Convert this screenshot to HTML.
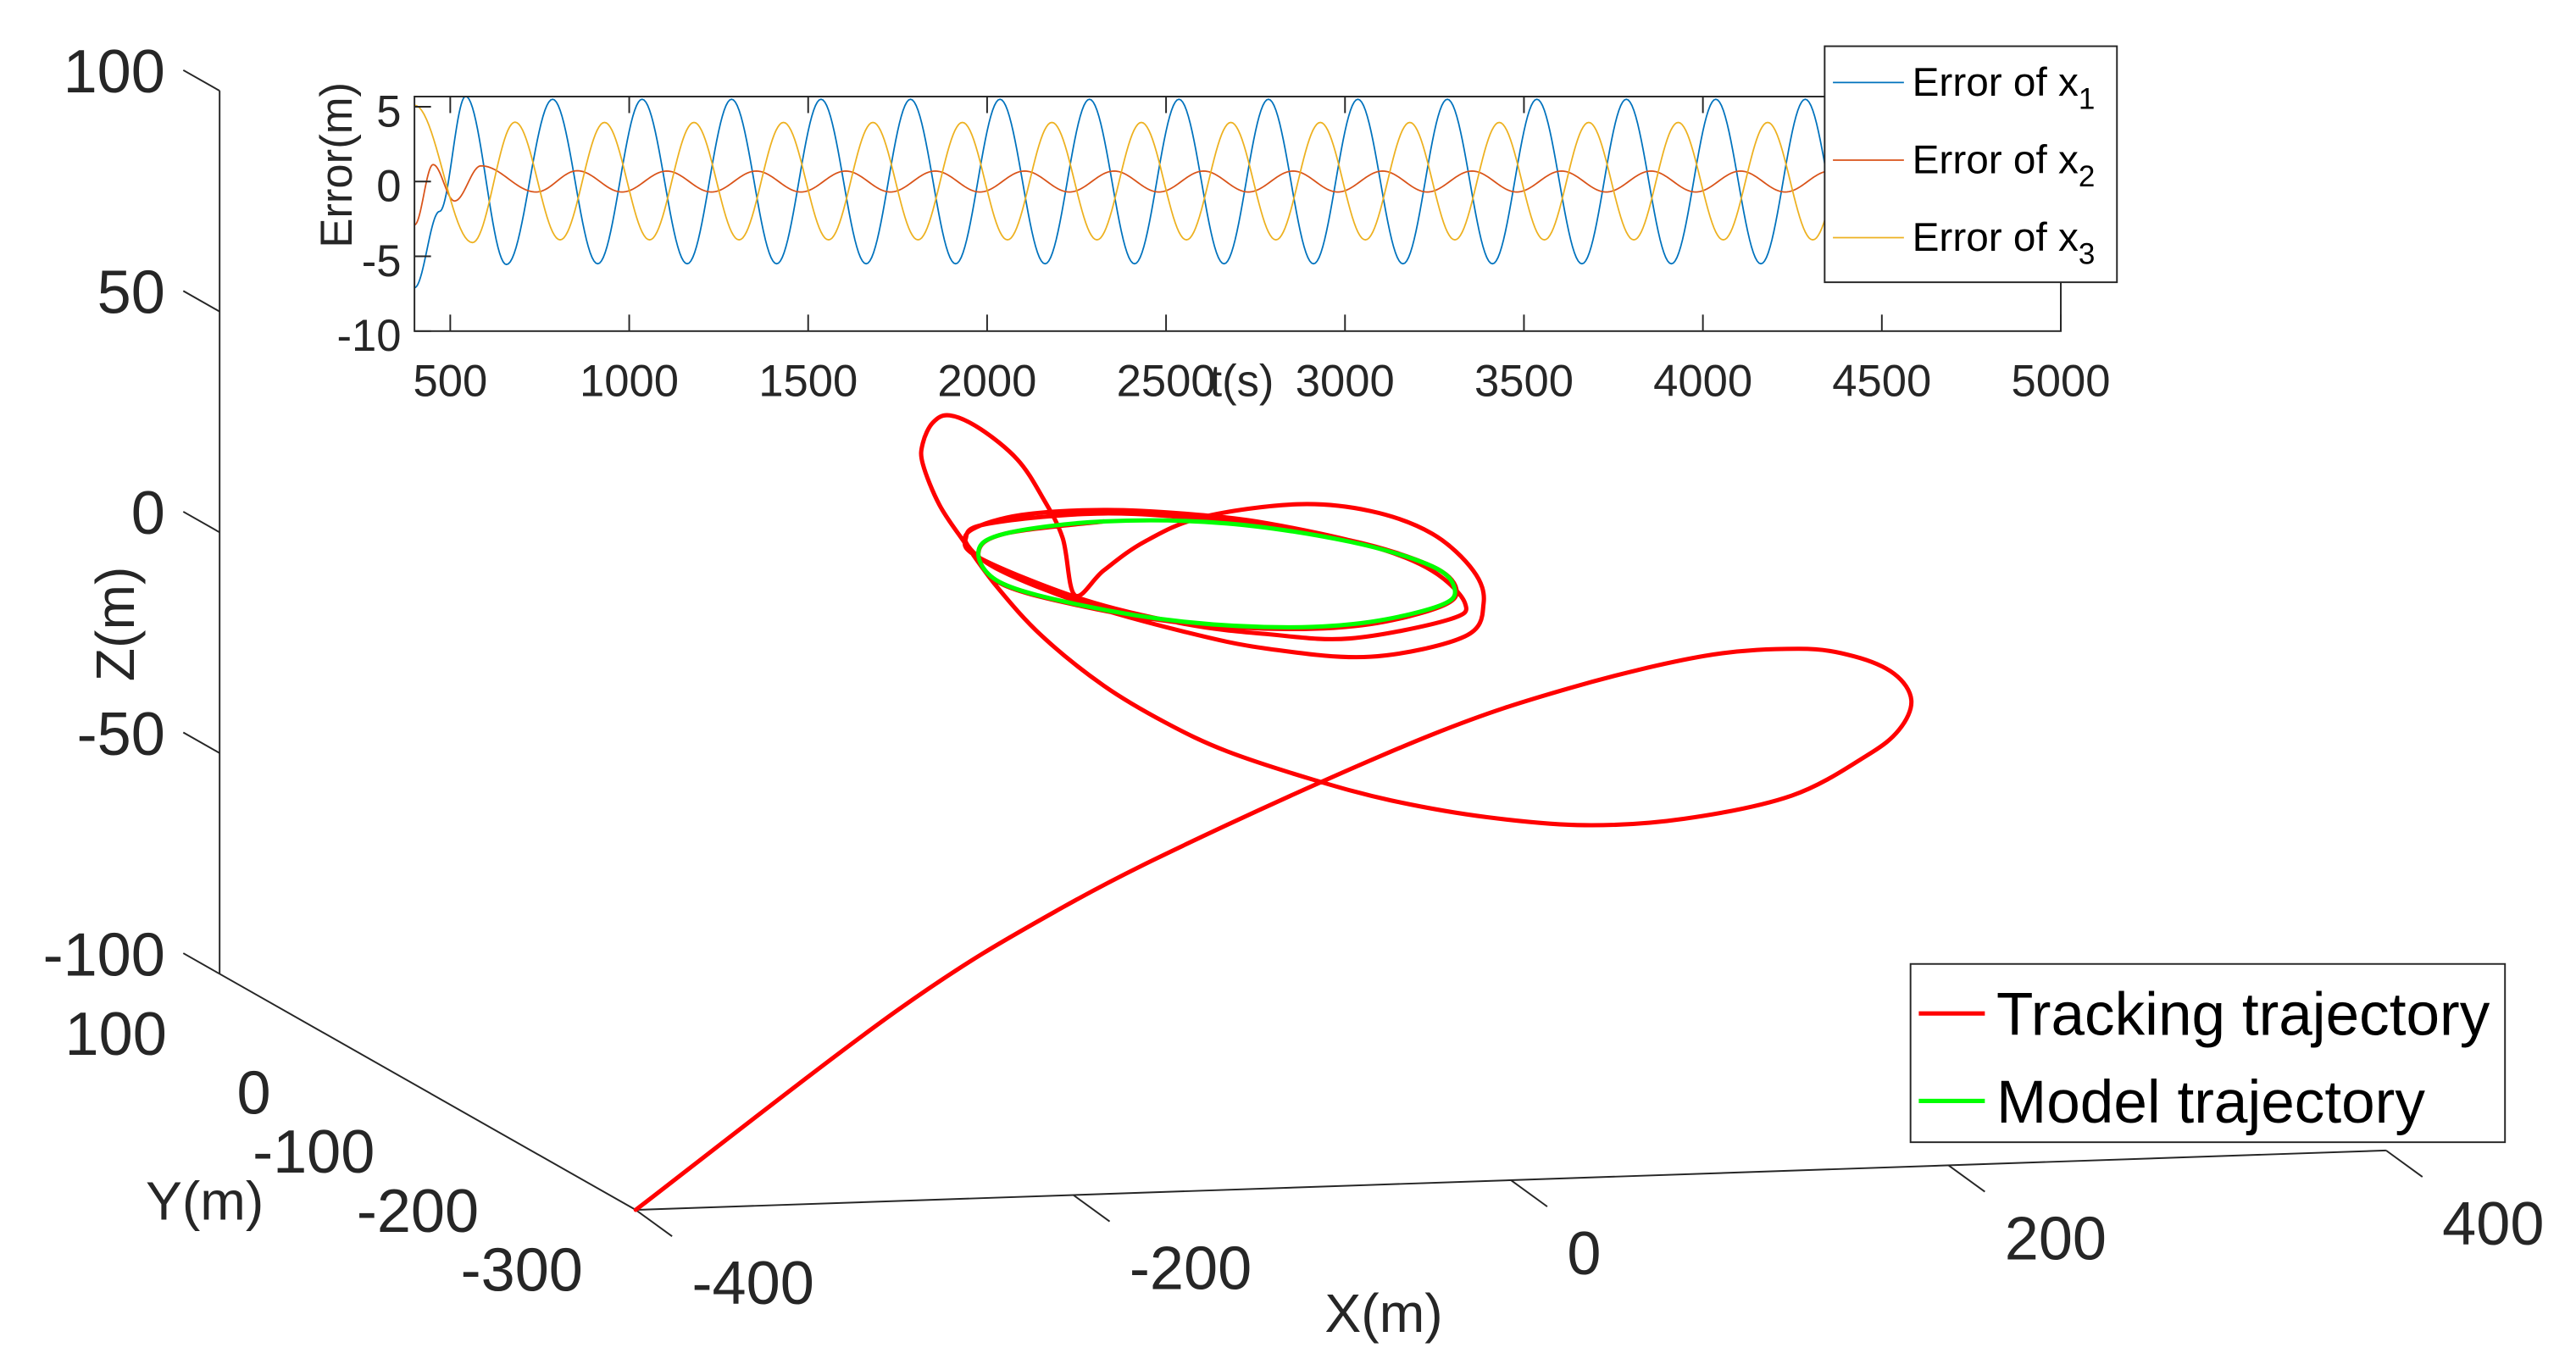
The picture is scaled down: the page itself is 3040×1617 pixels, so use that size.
<!DOCTYPE html>
<html><head><meta charset="utf-8"><style>
html,body{margin:0;padding:0;background:#fff;}
svg{display:block;font-family:"Liberation Sans",Arial,sans-serif;}
</style></head><body>
<svg id="chart" width="3040" height="1617" viewBox="0 0 1560 830" preserveAspectRatio="none" xmlns="http://www.w3.org/2000/svg">
<rect x="0" y="0" width="1560" height="830" fill="#fff"/>
<g id="main3d"></g>
<g id="inset"></g>
</svg>
<script>
// ---- 3D trajectory data ----
const zTicks = [100, 50, 0, -50, -100];
const yTicks = [100, 0, -100, -200, -300];
const xTicks = [-400, -200, 0, 200, 400];
const trackX = [-400,-184.9,-109.8,-34.7,59.1,121.4,183.4,226.9,251.8,270.3,278.1,272.5,257.4,223.4,174.3,129.1,83.8,40.3,4.7,-34.7,-62.9,-91.0,-119.2,-139.8,-154.9,-166.1,-173.7,-173.7,-169.1,-161.4,-147.4,-130.5,-119.2,-109.8,-104.2,-91.0,-72.3,-46.0,-2.9,30.9,59.1,77.9,82.6,74.1,30.9,-16.0,-53.5,-100.5,-138.0,-153.0,-151.1,-128.6,-91.0,-53.5,-16.0,30.9,59.1,74.1,66.6,21.6,-16.0,-53.5,-100.5,-147.4,-154.0,-143.6,-91.0,-34.7,21.6,59.1,70.2,62.9,30.9,-6.6,-53.5,-100.5,-138.0,-148.3,-136.1,-91.0];
const trackZ = [-100,-85.0,-63.1,-45.7,-26.8,-17.4,-11.1,-10.2,-12.3,-16.6,-22.7,-29.3,-35.0,-43.4,-47.8,-48.5,-45.9,-41.4,-36.1,-29.0,-22.0,-13.2,-1.5,10.0,20.5,29.0,38.4,43.1,47.7,49.2,45.9,38.7,30.1,20.6,7.5,12.9,19.1,24.2,26.4,24.3,18.7,10.0,2.5,-4.8,-8.7,-6.1,-1.7,5.6,13.6,19.5,23.2,26.1,26.6,25.1,22.3,16.4,10.3,2.7,-0.9,-4.4,-2.8,0.1,6.5,16.6,21.3,24.4,25.8,23.0,17.8,11.3,5.9,2.1,-1.3,-1.8,0.3,4.9,10.7,17.8,22.0,24.0];
const trackY = [-300,-100,-100,-100,-100,-100,-100,-100,-100,-100,-100,-100,-100,-100,-100,-100,-100,-100,-100,-100,-100,-100,-100,-100,-100,-100,-100,-100,-100,-100,-100,-100,-100,-100,-100,-100,-100,-100,-100,-100,-100,-100,-100,-100,-100,-100,-100,-100,-100,-100,-100,-100,-100,-100,-100,-100,-100,-100,-100,-100,-100,-100,-100,-100,-100,-100,-100,-100,-100,-100,-100,-100,-100,-100,-100,-100,-100,-100,-100,-100];
const modelX = [-148.3,-136.1,-91.0,-34.7,21.6,59.1,69.4,62.9,30.9,-6.6,-53.5,-100.5,-138.0];
const modelZ = [18.0,22.0,24.0,22.6,17.5,11.3,6.0,2.4,-0.8,-1.4,0.6,5.1,10.9];
const modelY = [-100,-100,-100,-100,-100,-100,-100,-100,-100,-100,-100,-100,-100];

// ---- inset error data (extrema knots) ----
const errTicksX = [500,1000,1500,2000,2500,3000,3500,4000,4500,5000];
const errTicksY = [5,0,-5,-10];
const e1T = [400,470,543,657,786,912,1036,1162,1286,1412,1536,1662,1786,1912,2036,2162,2286,2412,2536,2662,2786,2912,3036,3162,3286,3412,3536,3662,3786,3912,4036,4162,4286,4412,4536,4662,4786,4912,5000];
const e1V = [-7.1,-2.0,5.7,-5.55,5.5,-5.5,5.5,-5.5,5.5,-5.5,5.5,-5.5,5.5,-5.5,5.5,-5.5,5.5,-5.5,5.5,-5.5,5.5,-5.5,5.5,-5.5,5.5,-5.5,5.5,-5.5,5.5,-5.5,5.5,-5.5,5.5,-5.5,5.5,-5.5,5.5,-5.5,5.3];
const e2T = [400,452,512,586,740,855,980,1105,1230,1355,1480,1605,1730,1855,1980,2105,2230,2355,2480,2605,2730,2855,2980,3105,3230,3355,3480,3605,3730,3855,3980,4105,4230,4355,4480,4605,4730,4855,4980];
const e2V = [-2.9,1.13,-1.3,1.05,-0.7,0.72,-0.7,0.7,-0.7,0.7,-0.7,0.7,-0.7,0.7,-0.7,0.7,-0.7,0.7,-0.7,0.7,-0.7,0.7,-0.7,0.7,-0.7,0.7,-0.7,0.7,-0.7,0.7,-0.7,0.7,-0.7,0.7,-0.7,0.7,-0.7,0.7,-0.7];
const e3T = [400,562,681,807,931,1057,1181,1307,1431,1557,1681,1807,1931,2057,2181,2307,2431,2557,2681,2807,2931,3057,3181,3307,3431,3557,3681,3807,3931,4057,4181,4307,4431,4557,4681,4807,4931,5000];
const e3V = [5.1,-4.08,3.97,-3.9,3.95,-3.9,3.95,-3.9,3.95,-3.9,3.95,-3.9,3.95,-3.9,3.95,-3.9,3.95,-3.9,3.95,-3.9,3.95,-3.9,3.95,-3.9,3.95,-3.9,3.95,-3.9,3.95,-3.9,3.95,-3.9,3.95,-3.9,3.95,-3.9,3.95,-1.0];

const NS = "http://www.w3.org/2000/svg";
function mk(parent, tag, attrs, text) {
  const el = document.createElementNS(NS, tag);
  for (const k in attrs) el.setAttribute(k, attrs[k]);
  if (text !== undefined) el.textContent = text;
  parent.appendChild(el);
  return el;
}
const AX = "#262626";

function proj(X, Y, Z) {
  return [385 + (X + 400) * 1.325 + (Y + 300) * (-0.63),
          733 + (X + 400) * (-0.045) + (Y + 300) * (-0.3575) + (Z + 100) * (-2.675)];
}
function smoothPath(pts, closed) {
  const n = pts.length;
  const get = i => closed ? pts[(i + n) % n] : pts[Math.max(0, Math.min(n - 1, i))];
  let d = "M" + pts[0][0].toFixed(2) + "," + pts[0][1].toFixed(2);
  const segs = closed ? n : n - 1;
  for (let i = 0; i < segs; i++) {
    const p0 = get(i - 1), p1 = get(i), p2 = get(i + 1), p3 = get(i + 2);
    const c1 = [p1[0] + (p2[0] - p0[0]) / 6, p1[1] + (p2[1] - p0[1]) / 6];
    const c2 = [p2[0] - (p3[0] - p1[0]) / 6, p2[1] - (p3[1] - p1[1]) / 6];
    d += "C" + c1.map(v => v.toFixed(2)).join(",") + " " + c2.map(v => v.toFixed(2)).join(",") + " " + p2.map(v => v.toFixed(2)).join(",");
  }
  if (closed) d += "Z";
  return d;
}

const g3 = document.getElementById("main3d");
const zA = proj(-400, 100, -100), zB = proj(-400, 100, 100);
const axZ = mk(g3, "line", {x1: zA[0], y1: zA[1], x2: zB[0], y2: zB[1], stroke: AX, "stroke-width": 1});


const yA = proj(-400, -300, -100);
const axY = mk(g3, "line", {x1: zA[0], y1: zA[1], x2: yA[0], y2: yA[1], stroke: AX, "stroke-width": 1});


const xB = proj(400, -300, -100);
const axX = mk(g3, "line", {x1: yA[0], y1: yA[1], x2: xB[0], y2: xB[1], stroke: AX, "stroke-width": 1});



zTicks.forEach(v => {
  const p = proj(-400, 100, v);
  const t = mk(g3, "line", {x1: p[0], y1: p[1], x2: p[0] - 22, y2: p[1] - 12.5, stroke: AX, "stroke-width": 1});
  
  
  const l = mk(g3, "text", {x: 100, y: p[1] + 1, "font-size": 37, fill: AX, "text-anchor": "end"}, String(v));
  
  
});
yTicks.forEach(v => {
  const p = proj(-400, v, -100);
  const l = mk(g3, "text", {x: p[0] - 32, y: p[1] + 49, "font-size": 37, fill: AX, "text-anchor": "end"}, String(v));
  
  
});
xTicks.forEach(v => {
  const p = proj(v, -300, -100);
  const t = mk(g3, "line", {x1: p[0], y1: p[1], x2: p[0] + 22, y2: p[1] + 16, stroke: AX, "stroke-width": 1});
  
  
  const l = mk(g3, "text", {x: p[0] + 34, y: p[1] + 57, "font-size": 37, fill: AX, "text-anchor": "start"}, String(v));
  
  
});
const zt = mk(g3, "text", {x: 0, y: 0, "font-size": 33, fill: AX, "text-anchor": "middle", transform: "translate(81,378) rotate(-90)"}, "Z(m)");


const yt = mk(g3, "text", {x: 124, y: 739, "font-size": 33, fill: AX, "text-anchor": "middle"}, "Y(m)");


const xt = mk(g3, "text", {x: 838, y: 807, "font-size": 33, fill: AX, "text-anchor": "middle"}, "X(m)");



const trackPts = trackX.map((x, i) => proj(x, trackY[i], trackZ[i]));
const tr = mk(g3, "path", {d: smoothPath(trackPts, false), fill: "none", stroke: "#ff0000", "stroke-width": 2.6, "stroke-linejoin": "round", "stroke-linecap": "round"});


const modelPts = modelX.map((x, i) => proj(x, modelY[i], modelZ[i]));
const md = mk(g3, "path", {d: smoothPath(modelPts, true), fill: "none", stroke: "#00ff00", "stroke-width": 2.6});



const lg = mk(g3, "g", {});


mk(lg, "rect", {x: 1157, y: 584, width: 360, height: 108, fill: "#fff", stroke: AX, "stroke-width": 1});
const l1 = mk(lg, "line", {x1: 1162, y1: 614, x2: 1202, y2: 614, stroke: "#ff0000", "stroke-width": 2.6});


const t1 = mk(lg, "text", {x: 1209, y: 627, "font-size": 36.5, fill: "#000"}, "Tracking trajectory");


const l2 = mk(lg, "line", {x1: 1162, y1: 667, x2: 1202, y2: 667, stroke: "#00ff00", "stroke-width": 2.6});


const t2 = mk(lg, "text", {x: 1209, y: 680, "font-size": 36.5, fill: "#000"}, "Model trajectory");



// ---- inset ----
const gi = document.getElementById("inset");
const IL = 251, IR = 1248, IT = 58.5, IB = 200.6;
const tMin = 400, tMax = 5000, vMin = -10, vMax = 5.68;
const sx = t => IL + (t - tMin) / (tMax - tMin) * (IR - IL);
const sy = v => IB - (v - vMin) / (vMax - vMin) * (IB - IT);
mk(gi, "rect", {x: IL, y: IT, width: IR - IL, height: IB - IT, fill: "#fff"});
const clip = mk(gi, "clipPath", {id: "insetClip"});
mk(clip, "rect", {x: IL, y: IT, width: IR - IL, height: IB - IT});

function series(T, V, color, name) {
  let d = "";
  for (let i = 0; i < T.length - 1; i++) {
    const n = 24;
    for (let k = 0; k <= n; k++) {
      if (i > 0 && k === 0) continue;
      const f = k / n;
      const w = (1 - Math.cos(Math.PI * f)) / 2;
      const t = T[i] + (T[i + 1] - T[i]) * f;
      const v = V[i] + (V[i + 1] - V[i]) * w;
      d += (d ? "L" : "M") + sx(t).toFixed(2) + "," + sy(v).toFixed(2);
    }
  }
  const p = mk(gi, "path", {d: d, fill: "none", stroke: color, "stroke-width": 0.9, "clip-path": "url(#insetClip)"});
  
  
}
series(e1T, e1V, "#0072BD", "error-x1-line");
series(e2T, e2V, "#D95319", "error-x2-line");
series(e3T, e3V, "#EDB120", "error-x3-line");

const box = mk(gi, "rect", {x: IL, y: IT, width: IR - IL, height: IB - IT, fill: "none", stroke: AX, "stroke-width": 1});


errTicksX.forEach(v => {
  const x = sx(v);
  mk(gi, "line", {x1: x, y1: IB, x2: x, y2: IB - 10, stroke: AX, "stroke-width": 1});
  mk(gi, "line", {x1: x, y1: IT, x2: x, y2: IT + 10, stroke: AX, "stroke-width": 1});
  const l = mk(gi, "text", {x: x, y: 240, "font-size": 27, fill: AX, "text-anchor": "middle"}, String(v));
  
  
});
errTicksY.forEach(v => {
  const y = sy(v);
  mk(gi, "line", {x1: IL, y1: y, x2: IL + 10, y2: y, stroke: AX, "stroke-width": 1});
  const l = mk(gi, "text", {x: 243, y: y + 12, "font-size": 27, fill: AX, "text-anchor": "end"}, String(v));
  
  
});
const ixt = mk(gi, "text", {x: 752, y: 240, "font-size": 27, fill: AX, "text-anchor": "middle"}, "t(s)");


const iyt = mk(gi, "text", {x: 0, y: 0, "font-size": 27, fill: AX, "text-anchor": "middle", transform: "translate(213,100) rotate(-90)"}, "Error(m)");



const il = mk(gi, "g", {});


mk(il, "rect", {x: 1105, y: 28, width: 177, height: 143, fill: "#fff", stroke: AX, "stroke-width": 1});
const legColors = ["#0072BD", "#D95319", "#EDB120"];
const legSubs = ["1", "2", "3"];
const legY = [50, 97, 144];
legSubs.forEach((s, i) => {
  const ln = mk(il, "line", {x1: 1110, y1: legY[i], x2: 1153, y2: legY[i], stroke: legColors[i], "stroke-width": 0.9});
  
  
  const tx = mk(il, "text", {x: 1158, y: legY[i] + 8, "font-size": 24.5, fill: "#000"});
  
  
  mk(tx, "tspan", {}, "Error of x");
  mk(tx, "tspan", {dy: 8, "font-size": 18}, s);
});
</script>
</body></html>
